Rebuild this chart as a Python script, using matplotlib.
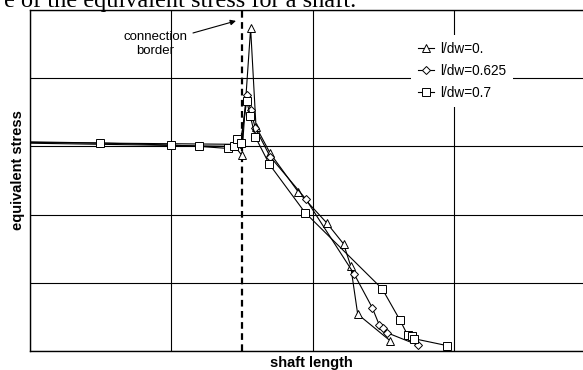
import matplotlib
matplotlib.use("Agg")
import matplotlib.pyplot as plt

plt.rcParams["font.family"] = ["Liberation Sans", "DejaVu Sans"]

# Equivalent stress along the shaft for three hub-length ratios
x_tri = [-0.1, 1.45, 1.50, 1.562, 1.60, 1.70, 1.90, 2.10, 2.22, 2.27, 2.32, 2.55]
y_tri = [3.05, 3.00, 2.87, 4.73, 3.29, 2.90, 2.33, 1.88, 1.57, 1.25, 0.54, 0.15]

x_dia = [-0.1, 1.49, 1.536, 1.562, 1.595, 1.70, 1.952, 2.296, 2.423, 2.473, 2.497, 2.525, 2.745]
y_dia = [3.06, 3.03, 3.75, 3.53, 3.27, 2.85, 2.23, 1.125, 0.635, 0.38, 0.34, 0.27, 0.088]

x_sq = [-0.1, 0.496, 0.998, 1.199, 1.40, 1.446, 1.466, 1.492, 1.534, 1.559, 1.595,
        1.694, 1.947, 2.494, 2.62, 2.673, 2.702, 2.72, 2.95]
y_sq = [3.07, 3.05, 3.02, 3.00, 2.97, 3.00, 3.11, 3.05, 3.67, 3.45, 3.14,
        2.74, 2.03, 0.91, 0.45, 0.235, 0.22, 0.18, 0.08]

labels = ["l/dw=0.", "l/dw=0.625", "l/dw=0.7"]
border_x = 1.5

W, H = 583, 370
fig = plt.figure(figsize=(W / 100, H / 100), dpi=100)
ax = fig.add_axes([30 / W, 19 / H, 565 / W, 341 / H])
ax.set_xlim(0, 4)
ax.set_ylim(0, 5)
ax.set_xticks([0, 1, 2, 3, 4])
ax.set_yticks([0, 1, 2, 3, 4, 5])
ax.tick_params(length=0, labelbottom=False, labelleft=False)
ax.grid(True, color="black", linewidth=0.8)
for s in ax.spines.values():
    s.set_linewidth(1.0)

common = dict(color="black", linewidth=0.8, markerfacecolor="white",
              markeredgecolor="black", markeredgewidth=0.7)
ax.plot(x_tri, y_tri, marker="^", markersize=6.3, markevery=list(range(2, len(x_tri))),
        label=labels[0], zorder=3, **common)
ax.plot(x_dia, y_dia, marker="D", markersize=3.8, markevery=list(range(1, len(x_dia))),
        label=labels[1], zorder=4, **common)
ax.plot(x_sq, y_sq, marker="s", markersize=5.5, markevery=list(range(1, len(x_sq))),
        label=labels[2], zorder=5, **common)

ax.axvline(border_x, color="black", linewidth=1.6, linestyle=(0, (3, 2)), zorder=2)

ax.text(0.885, 4.50, "connection\nborder", ha="center", va="center",
        fontsize=9.5, linespacing=1.3)
ax.annotate("", xy=(1.458, 4.84), xytext=(1.154, 4.663),
            arrowprops=dict(arrowstyle="-|>", color="black", lw=0.8,
                            mutation_scale=8, shrinkA=0, shrinkB=0))

leg = ax.legend(loc="upper left", bbox_to_anchor=(411 / W, 1 - 35 / H),
                bbox_transform=fig.transFigure, fontsize=9.8, frameon=True,
                fancybox=False, framealpha=1, edgecolor="none", facecolor="white",
                handlelength=1.2, handletextpad=0.45, labelspacing=0.6,
                borderpad=0.5, borderaxespad=0)
leg.set_zorder(6)

fig.text(311 / W, 1 - 363 / H, "shaft length", ha="center", va="center",
         fontsize=10.5, fontweight="bold")
fig.text(18 / W, 1 - 170 / H, "equivalent stress", ha="center", va="center",
         rotation=90, fontsize=10.5, fontweight="bold")

fig.text(356 / W, 1 - 6.5 / H, "e of the equivalent stress for a shaft.",
         ha="right", va="baseline", fontsize=17.5, family="Liberation Serif")

fig.savefig("out.png", dpi=100)
